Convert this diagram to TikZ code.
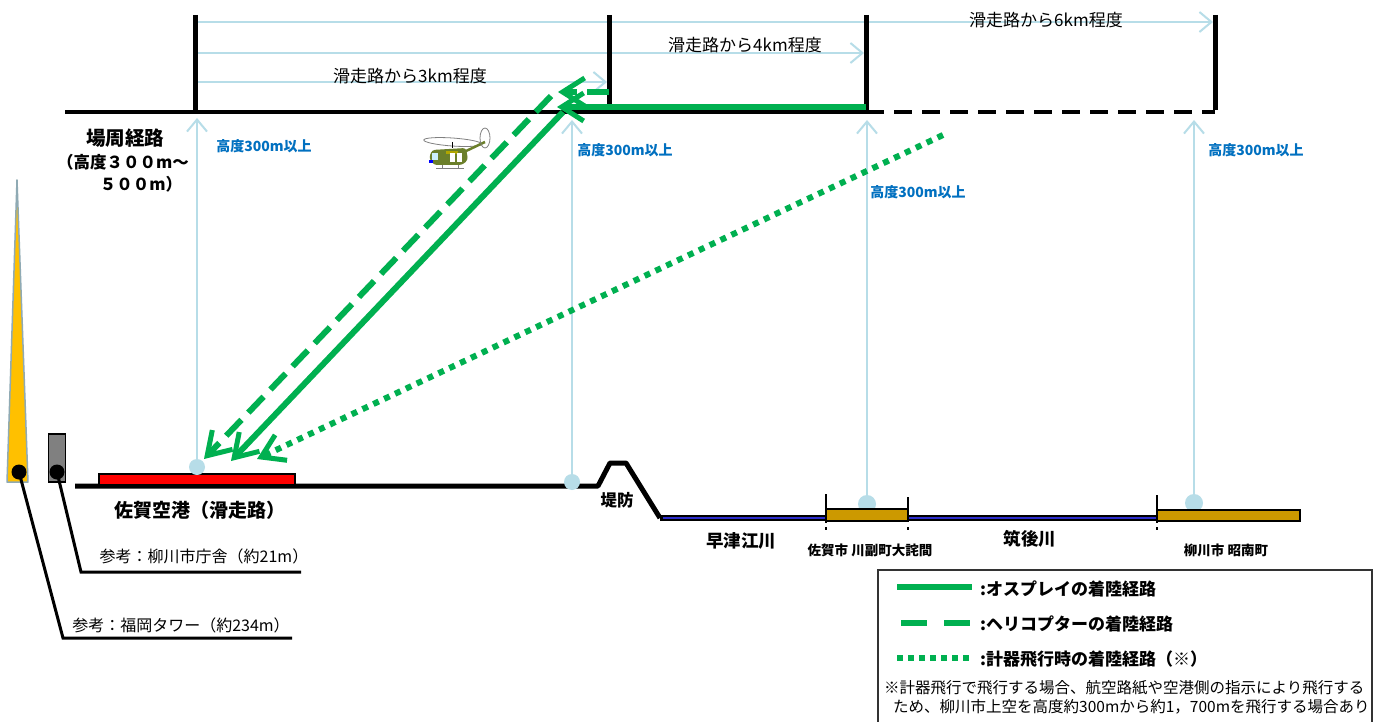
\documentclass[tikz,border=0pt]{standalone}
\usepackage{fontspec}
\setmainfont{Noto Sans CJK JP}
\usetikzlibrary{arrows.meta}

\definecolor{route}{HTML}{00B050}
\definecolor{guide}{HTML}{B7DDE8}
\definecolor{alttext}{HTML}{0070C0}
\definecolor{river}{HTML}{2E2ECC}
\definecolor{town}{HTML}{CC9900}
\definecolor{tower}{HTML}{FFC000}
\definecolor{towerline}{HTML}{8FAAB4}
\definecolor{heli}{HTML}{6B7F2A}

\tikzset{
  fs/.style={font=\fontsize{#1}{#1}\selectfont},
  fsb/.style={font=\bfseries\fontsize{#1}{#1}\selectfont},
  framebar/.style={line width=5pt},
  groundline/.style={line width=5pt, line join=round},
  guidearrow/.style={draw=guide, line width=2pt, -{Straight Barb[length=12pt,width=20pt,line width=2pt]}},
  guidedot/.style={circle, fill=guide, inner sep=0pt, minimum size=16pt},
  routehead/.style={-{Straight Barb[length=22pt,width=28pt,line width=5pt]}},
  ospreyroute/.style={draw=route, line width=6pt, routehead},
  heliroute/.style={draw=route, line width=6pt, dash pattern=on 22pt off 10pt, routehead},
  ifrroute/.style={draw=route, line width=6pt, dash pattern=on 6pt off 6pt, routehead},
  alt/.style={fsb=14, text=alttext, inner sep=0pt},
  dist/.style={fs=17, inner sep=0pt},
  place/.style={fsb=17.5, inner sep=0pt},
  small/.style={fsb=13.5, inner sep=0pt},
  legendtext/.style={fsb=17, anchor=west, inner sep=0pt},
  notetext/.style={fs=15.5, anchor=west, inner sep=0pt},
  reftext/.style={fs=16, inner sep=0pt},
  tick/.style={line width=2pt},
}

\begin{document}
\begin{tikzpicture}[x=1pt, y=-1pt]
\path[use as bounding box, fill=white] (0,0) rectangle (1392,722);

% ---------- traffic pattern frame ----------
\coordinate (fL) at (65,112);
\coordinate (f1b) at (195,112);  \coordinate (f1t) at (195,15);
\coordinate (f2b) at (609,112);  \coordinate (f2t) at (609,15);
\coordinate (f3b) at (866,112);  \coordinate (f3t) at (866,15);
\coordinate (f4b) at (1215,112); \coordinate (f4t) at (1215,15);

% distance arrows
\coordinate (d6a) at (198,22); \coordinate (d6b) at (1213,22);
\coordinate (d4a) at (198,53); \coordinate (d4b) at (864,53);
\coordinate (d3a) at (198,82); \coordinate (d3b) at (607,82);
\draw[guidearrow] (d6a) -- (d6b);
\draw[guidearrow] (d4a) -- (d4b);
\draw[guidearrow] (d3a) -- (d3b);
\node[dist] (t6) at (1046,20) {滑走路から6km程度};
\node[dist] (t4) at (745,45) {滑走路から4km程度};
\node[dist] (t3) at (410,76) {滑走路から3km程度};

\draw[line width=4pt] (fL) -- (f3b);
\draw[line width=4pt, dash pattern=on 18pt off 10pt] (f3b) -- (f4b);
\draw[framebar] (f1t) -- (f1b);
\draw[framebar] (f2t) -- (f2b);
\draw[framebar] (f3t) -- (f3b);
\draw[framebar] (f4t) -- ([yshift=2pt]f4b);

% ---------- ground profile ----------
\coordinate (gr0) at (75,486);
\coordinate (gr1) at (598,486);
\coordinate (gr2) at (610,463);
\coordinate (gr3) at (626,463);
\coordinate (gr4) at (660,518);
\coordinate (rvE) at (1300,518);
\draw[groundline] (gr0) -- (gr1) -- (gr2) -- (gr3) -- (gr4);
\draw[line width=6pt] (gr4) -- (rvE);
\draw[river, line width=2.5pt] ([xshift=3pt]gr4) -- (rvE);

% runway
\node[draw=black, line width=2pt, fill=red, minimum width=196pt, minimum height=11pt, inner sep=0pt] (runway) at (196.5,479) {};

% ---------- altitude guides ----------
\node[guidedot] (g1) at (197,467) {};
\node[guidedot] (g2) at (572,482) {};
\node[guidedot, minimum width=13pt, minimum height=18pt] (g3) at (867,504) {};
\node[guidedot, minimum width=13pt, minimum height=18pt] (g4) at (1194,503) {};
\coordinate (h1) at (197,118);
\coordinate (h2) at (572,120);
\coordinate (h3) at (867,120);
\coordinate (h4) at (1194,120);
\draw[guidearrow] (g1.center) -- (h1);
\draw[guidearrow] (g2.center) -- (h2);
\draw[guidearrow] (g3.center) -- (h3);
\draw[guidearrow] (g4.center) -- (h4);
\node[alt] (a1) at (264,146) {高度300m以上};
\node[alt] (a2) at (625,150) {高度300m以上};
\node[alt] (a3) at (918,192) {高度300m以上};
\node[alt] (a4) at (1256,150) {高度300m以上};

% districts along the river
\node[draw=black, line width=2pt, fill=town, minimum width=82pt, minimum height=12pt, inner sep=0pt] (kawasoe) at (867,515) {};
\node[draw=black, line width=2pt, fill=town, minimum width=143pt, minimum height=11pt, inner sep=0pt] (shonan) at (1228.5,515.5) {};
\draw[tick] (826,494) -- (826,523);
\draw[tick] (908,497) -- (908,521);
\draw[tick] (1157,495) -- (1157,523);
\draw[line width=1.2pt] (826,527) -- (826,530);
\draw[line width=1.2pt] (908,527) -- (908,530);
\draw[line width=1.2pt] (1157,527) -- (1157,530);

% ground labels
\node[fsb=19, inner sep=0pt] (airport) at (200,510) {佐賀空港（滑走路）};
\node[fsb=16.5, inner sep=0pt] (levee) at (617,500) {堤防};
\node[place] (hayatsue) at (741,541) {早津江川};
\node[place] (chikugo) at (1030,539) {筑後川};
\node[small] (kawasoeT) at (870,550) {佐賀市 川副町大詫間};
\node[small] (shonanT) at (1226,550) {柳川市 昭南町};

% traffic pattern label
\node[fsb=19.5, inner sep=0pt] (pat1) at (125,138) {場周経路};
\node[fsb=16.5, inner sep=0pt] (pat2) at (123,162) {（高度３００m～};
\node[fsb=16.5, inner sep=0pt] (pat3) at (141,184) {５００m）};

% ---------- reference buildings ----------
\draw[towerline, fill=tower, line width=1.5pt, line join=round] (17,180) -- (28,482) -- (7,482) -- cycle;
\node[circle, fill=black, inner sep=0pt, minimum size=15pt] (towerdot) at (19,472) {};
\node[draw=black, line width=1.5pt, fill=gray, minimum width=17pt, minimum height=48pt, inner sep=0pt] (hall) at (57,458) {};
\node[circle, fill=black, inner sep=0pt, minimum size=15pt] (halldot) at (57,472) {};

\coordinate (tw1) at (63,638); \coordinate (tw2) at (292,638);
\coordinate (hl1) at (81,572); \coordinate (hl2) at (301,572);
\draw[line width=3pt] (towerdot.center) -- (tw1) -- (tw2);
\draw[line width=3pt] (halldot.center) -- (hl1) -- (hl2);
\node[reftext] (hallT) at (204,556) {参考：柳川市庁舎（約21m）};
\node[reftext] (towerT) at (181,625) {参考：福岡タワー（約234m）};

% ---------- landing routes ----------
\coordinate (osA) at (866,107);
\coordinate (osB) at (557,107);
\coordinate (osC) at (563,112);
\coordinate (osD) at (231,461);
\coordinate (heA) at (609,92);
\coordinate (heB) at (558,92);
\coordinate (heC) at (551,96);
\coordinate (heD) at (204,459);
\coordinate (ifA) at (943,135);
\coordinate (ifB) at (257,459);
\draw[ospreyroute] (osA) -- (osB);
\draw[ospreyroute] (osC) -- (osD);
\draw[heliroute] (heA) -- (heB);
\draw[heliroute] (heC) -- (heD);
\draw[ifrroute] (ifA) -- (ifB);

% ---------- helicopter ----------
\begin{scope}[shift={(452,152)}]
  \draw[gray, line width=0.8pt, rotate=-4] (0,-10) ellipse (29pt and 4pt);
  \draw[heli, line width=2.5pt] (12,0) -- (33,-10);
  \draw[gray, line width=0.8pt] (33,-14) ellipse (5pt and 10pt);
  \draw[black, line width=1pt] (0,-10) -- (0,-4);
  \fill[heli, rounded corners=3pt] (-20,-2) -- (14,-4) -- (16,8) -- (10,13) -- (-18,13) -- (-23,6) -- cycle;
  \fill[olive!70!yellow] (-6,-1) rectangle (6,2);
  \fill[white] (-2,1) rectangle (3,10);
  \fill[white] (5,1) rectangle (10,10);
  \fill[white!80!cyan] (-20,1) rectangle (-14,8);
  \fill[blue] (-23,8) rectangle (-19,11);
  \draw[gray, line width=1pt] (-16,17) -- (12,17);
  \draw[gray, line width=0.8pt] (-10,13) -- (-10,17) (6,13) -- (6,17);
\end{scope}

% ---------- legend ----------
\node[draw=black!80, line width=1.5pt, minimum width=494pt, minimum height=158pt, inner sep=0pt] (legend) at (1125,649) {};
\coordinate (l1a) at (897,587); \coordinate (l1b) at (972,587);
\coordinate (l2a) at (901,623); \coordinate (l2b) at (972,623);
\coordinate (l3a) at (897,658); \coordinate (l3b) at (972,658);
\draw[route, line width=6pt] (l1a) -- (l1b);
\draw[route, line width=6pt, dash pattern=on 26pt off 17pt] (l2a) -- (l2b);
\draw[route, line width=6pt, dash pattern=on 6pt off 5pt] (l3a) -- (l3b);
\node[legendtext] (lt1) at (980,589) {:オスプレイの着陸経路};
\node[legendtext] (lt2) at (980,624) {:ヘリコプターの着陸経路};
\node[legendtext] (lt3) at (980,659) {:計器飛行時の着陸経路（※）};
\node[notetext] (n1) at (884,688) {※計器飛行で飛行する場合、航空路紙や空港側の指示により飛行する};
\node[notetext] (n2) at (893,707) {ため、柳川市上空を高度約300mから約1，700mを飛行する場合あり};
\end{tikzpicture}
\end{document}
